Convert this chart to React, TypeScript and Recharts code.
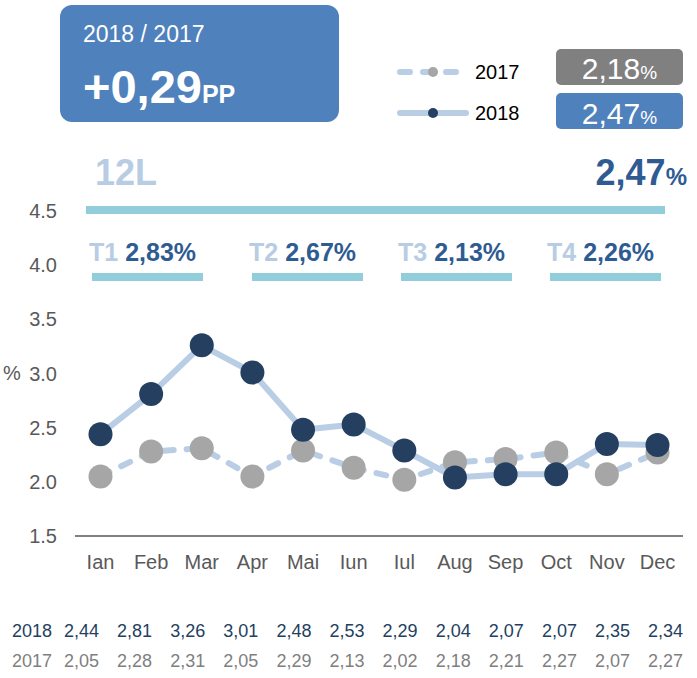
import { LineChart, Line, XAxis, YAxis } from "recharts";

const months = ["Ian", "Feb", "Mar", "Apr", "Mai", "Iun", "Iul", "Aug", "Sep", "Oct", "Nov", "Dec"];
const values2018 = [2.44, 2.81, 3.26, 3.01, 2.48, 2.53, 2.29, 2.04, 2.07, 2.07, 2.35, 2.34];
const values2017 = [2.05, 2.28, 2.31, 2.05, 2.29, 2.13, 2.02, 2.18, 2.21, 2.27, 2.07, 2.27];
const yTicks = [1.5, 2, 2.5, 3, 3.5, 4, 4.5];

const quarterNames = ["T1", "T2", "T3", "T4"];
const quarterValues = [2.83, 2.67, 2.13, 2.26];

const avg2017 = 2.18;
const avg2018 = 2.47;
const diffPP = 0.29;

const data = months.map((m, i) => ({ month: m, y2018: values2018[i], y2017: values2017[i] }));

// layout
const FONT = "'Liberation Sans', Arial, sans-serif";
const LINE_COLOR = "#b9cde5";
const NAVY = "#243f60";
const GREY_DOT = "#a6a6a6";
const BLUE = "#4f81bd";
const DARK_BLUE = "#2f5b93";
const PALE_BLUE = "#b8cce4";
const BAR_COLOR = "#92cddc";
const quarterBarX = [92, 252, 401, 550];

const fmt = (v: number) => v.toFixed(2).replace(".", ",");

export default function App() {
  return (
    <div style={{ position: "absolute", left: 0, top: 0, width: 697, height: 678, fontFamily: FONT }}>
      <LineChart
        width={697}
        height={678}
        data={data}
        margin={{ top: 211, right: 14, left: 0, bottom: 112 }}
      >
        <XAxis
          dataKey="month"
          interval={0}
          padding={{ left: 25.5, right: 25.5 }}
          axisLine={{ stroke: "#808080", strokeWidth: 2 }}
          tickLine={false}
          tickSize={0}
          tickMargin={19}
          height={30}
          tick={{ fontSize: 20, fill: "#595959", fontFamily: FONT }}
        />
        <YAxis
          domain={[1.5, 4.5]}
          ticks={yTicks}
          width={75}
          axisLine={false}
          tickLine={false}
          tickSize={0}
          tickMargin={18}
          tickFormatter={(v: number) => v.toFixed(1)}
          tick={{ fontSize: 20, fill: "#595959", fontFamily: FONT }}
        />
        <Line
          type="linear"
          dataKey="y2017"
          stroke={LINE_COLOR}
          strokeWidth={6}
          strokeDasharray="10 13"
          strokeLinecap="round"
          dot={{ r: 12, fill: GREY_DOT, stroke: "none" }}
          activeDot={false}
          isAnimationActive={false}
        />
        <Line
          type="linear"
          dataKey="y2018"
          stroke={LINE_COLOR}
          strokeWidth={6}
          strokeLinejoin="round"
          dot={{ r: 12, fill: NAVY, stroke: "none" }}
          activeDot={false}
          isAnimationActive={false}
        />
      </LineChart>

      <svg
        width={697}
        height={678}
        style={{ position: "absolute", left: 0, top: 0, pointerEvents: "none" }}
        fontFamily={FONT}
      >
        {/* headline box */}
        <rect x={60} y={5} width={279} height={117} rx={12} fill={BLUE} />
        <text x={83} y={42} fontSize={23} fill="#fff">2018 / 2017</text>
        <text x={83} y={103} fill="#fff" fontWeight="bold">
          <tspan fontSize={47}>{(diffPP >= 0 ? "+" : "") + fmt(diffPP)}</tspan>
          <tspan fontSize={25}>PP</tspan>
        </text>

        {/* legend */}
        <line x1={400} y1={72} x2={460} y2={72} stroke={LINE_COLOR} strokeWidth={6} strokeDasharray="10 13" strokeLinecap="round" />
        <circle cx={433} cy={72} r={5} fill={GREY_DOT} />
        <text x={475} y={79} fontSize={20} fill="#000">2017</text>
        <line x1={400} y1={113} x2={466} y2={113} stroke={LINE_COLOR} strokeWidth={6} strokeLinecap="round" />
        <circle cx={433} cy={113} r={5} fill={NAVY} />
        <text x={475} y={120} fontSize={20} fill="#000">2018</text>

        <rect x={556} y={49} width={127} height={36} rx={5} fill="#808080" />
        <text x={619.5} y={79} textAnchor="middle" fill="#fff">
          <tspan fontSize={30}>{fmt(avg2017)}</tspan>
          <tspan fontSize={19}>%</tspan>
        </text>
        <rect x={556} y={93} width={127} height={36} rx={5} fill={BLUE} />
        <text x={619.5} y={123.5} textAnchor="middle" fill="#fff">
          <tspan fontSize={30}>{fmt(avg2018)}</tspan>
          <tspan fontSize={19}>%</tspan>
        </text>

        {/* 12L */}
        <text x={95} y={185} fontSize={36} fontWeight="bold" fill={PALE_BLUE}>12L</text>
        <text x={687} y={185} textAnchor="end" fontWeight="bold" fill={DARK_BLUE}>
          <tspan fontSize={36}>{fmt(avg2018)}</tspan>
          <tspan fontSize={24}>%</tspan>
        </text>
        <rect x={86} y={206} width={579} height={8} fill={BAR_COLOR} />

        {/* quarters */}
        {quarterNames.map((q, i) => (
          <g key={q}>
            <text x={quarterBarX[i] - 3} y={261} fontSize={25} fontWeight="bold">
              <tspan fill={PALE_BLUE}>{q} </tspan>
              <tspan fill={DARK_BLUE}>{fmt(quarterValues[i])}%</tspan>
            </text>
            <rect x={quarterBarX[i]} y={273} width={111} height={8} fill={BAR_COLOR} />
          </g>
        ))}

        <text x={3} y={380} fontSize={20} fill="#595959">%</text>

        {/* table */}
        <text x={12} y={636.5} fontSize={18} fill={NAVY}>2018</text>
        <text x={12} y={666.5} fontSize={18} fill="#7f7f7f">2017</text>
        {months.map((m, i) => (
          <g key={m}>
            <text x={81.5 + i * 53.1} y={636.5} fontSize={18} textAnchor="middle" fill={NAVY}>
              {fmt(values2018[i])}
            </text>
            <text x={81.5 + i * 53.1} y={666.5} fontSize={18} textAnchor="middle" fill="#7f7f7f">
              {fmt(values2017[i])}
            </text>
          </g>
        ))}
      </svg>
    </div>
  );
}
